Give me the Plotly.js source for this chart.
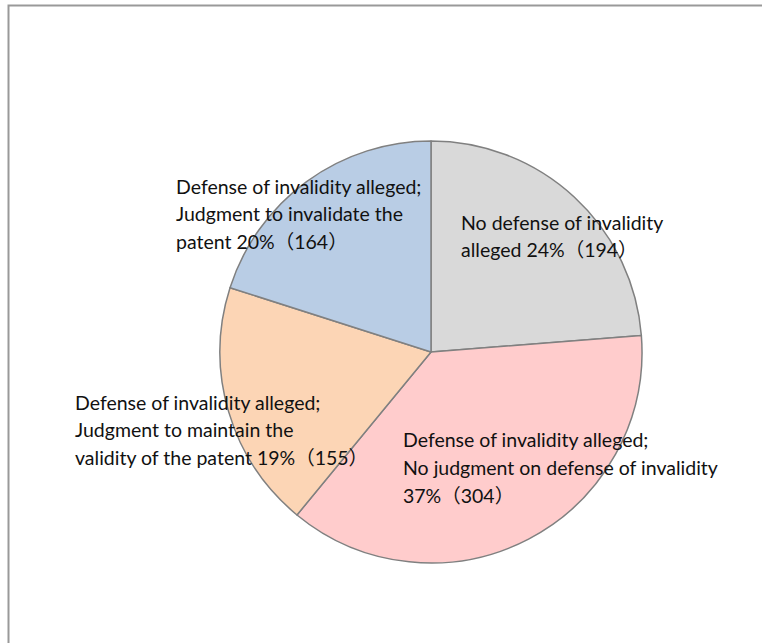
<!DOCTYPE html>
<html>
<head>
<meta charset="utf-8">
<script src="https://cdn.plot.ly/plotly-3.0.1.min.js"></script>
<style>html,body{margin:0;padding:0;background:#fff;}#chart{width:762px;height:643px;}</style>
</head>
<body>
<div id="chart"></div>
<script>
// Data (clockwise from 12 o'clock)
const categories = [
  "No defense of invalidity alleged",
  "Defense of invalidity alleged; No judgment on defense of invalidity",
  "Defense of invalidity alleged; Judgment to maintain the validity of the patent",
  "Defense of invalidity alleged; Judgment to invalidate the patent"
];
const counts = [194, 304, 155, 164];
const colors = ["#d9d9d9", "#ffcccc", "#fcd5b5", "#b9cde5"];
// label text broken into lines (percent and count appended to last line)
const labelLines = [
  ["No defense of invalidity", "alleged"],
  ["Defense of invalidity alleged;", "No judgment on defense of invalidity", ""],
  ["Defense of invalidity alleged;", "Judgment to maintain the", "validity of the patent"],
  ["Defense of invalidity alleged;", "Judgment to invalidate the", "patent"]
];
// label placement (pixel: left edge, centre of first line)
const labelPos = [[461, 222], [403, 440], [75, 402], [176, 186]];
const lineGap = 27.5;

const W = 762, H = 643;
const cx = 431, cy = 352, R = 211;
const total = counts.reduce((a, b) => a + b, 0);

const fontFam = "Lato, 'Noto Sans CJK JP', sans-serif";
const annotations = [];
counts.forEach((v, i) => {
  const pct = Math.round(v / total * 100);
  const lines = labelLines[i].slice();
  const last = lines.length - 1;
  lines[last] = (lines[last] ? lines[last] + " " : "") + pct + "%（" + v + "）";
  lines.forEach((t, k) => {
    annotations.push({
      text: t, showarrow: false, xref: "paper", yref: "paper",
      x: (labelPos[i][0] - 2) / W, y: 1 - (labelPos[i][1] + k * lineGap) / H,
      xanchor: "left", yanchor: "middle",
      font: {family: fontFam, size: 19.5, color: "#111"}
    });
  });
});

const trace = {
  type: "pie",
  labels: categories,
  values: counts,
  sort: false,
  direction: "clockwise",
  rotation: 0,
  textinfo: "none",
  hoverinfo: "label+value+percent",
  marker: {colors: colors, line: {color: "#808080", width: 1.5}},
  domain: {x: [(cx - R) / W, (cx + R) / W], y: [1 - (cy + R) / H, 1 - (cy - R) / H]},
  showlegend: false
};

const layout = {
  width: W, height: H,
  margin: {l: 0, r: 0, t: 0, b: 0},
  paper_bgcolor: "#fff",
  showlegend: false,
  annotations: annotations,
  shapes: [{
    type: "rect", xref: "paper", yref: "paper",
    x0: 8.5 / W, x1: 1.05, y0: -0.05, y1: 1 - 5.5 / H,
    line: {color: "#999999", width: 2}, fillcolor: "rgba(0,0,0,0)", layer: "below"
  }]
};

Plotly.newPlot("chart", [trace], layout, {displayModeBar: false, staticPlot: true});
</script>
</body>
</html>
